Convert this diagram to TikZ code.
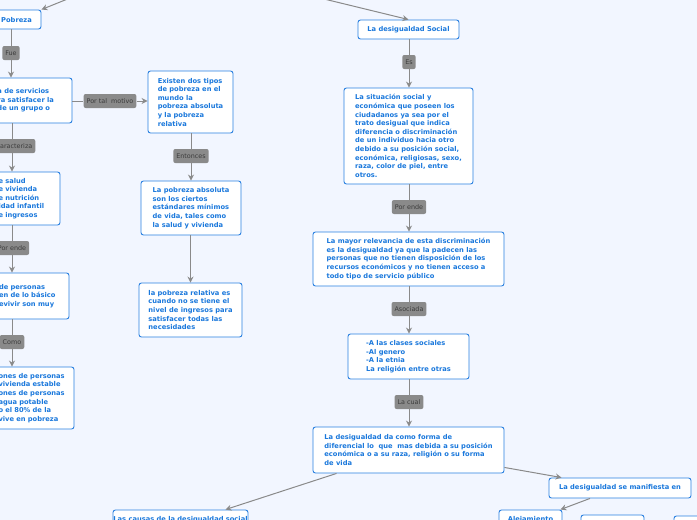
\documentclass[tikz,border=0pt]{standalone}
\usepackage{fontspec}
\setmainfont{DejaVu Sans}
\usetikzlibrary{arrows.meta}
\definecolor{bg}{HTML}{F2F6FF}
\definecolor{bl}{HTML}{1A78DC}
\definecolor{bd}{HTML}{2A80E0}
\definecolor{lg}{HTML}{8A8A8A}
\definecolor{lt}{HTML}{3C3C3C}
\begin{document}
\begin{tikzpicture}[x=1pt,y=-1pt,
  box/.style={draw=bd,line width=0.9pt,fill=white,rounded corners=2.5pt,text=bl,
    font=\fontsize{6.7}{8.6}\selectfont\bfseries,align=left,inner sep=0pt},
  btxt/.style={text=bl,font=\fontsize{6.7}{8.6}\selectfont\bfseries,inner sep=0pt},
  lab/.style={fill=lg,rounded corners=2pt,text=lt,font=\fontsize{6.4}{7}\selectfont,
    inner xsep=3pt,minimum height=14pt},
  conn/.style={draw=lg,line width=1pt},
  arr/.style={conn,-{Stealth[length=6pt,width=6pt]}}]
\useasboundingbox[fill=bg] (0,0) rectangle (697,520);
\newcommand{\bx}[6][]{\node[box,minimum width=#4-#2,minimum height=#5-#3,#1] (#6) at ({(#2+#4)/2},{(#3+#5)/2})}
\coordinate (t1) at (70,-2);
\coordinate (t2) at (320,-2);
\bx[align=center]{-8}{10}{41}{29}{pob}{Pobreza};
\bx[align=center]{358}{20}{459}{39}{ds}{La desigualdad Social};
\draw[arr] (t1) -- (pob.north east);
\draw[arr] (t2) -- (ds.north);
% left column
\bx[text width=72]{-5}{78}{72}{123}{b1}{a de servicios\\ra satisfacer la\\de un grupo o\\ };
\bx{148}{71}{233}{133}{b2}{Existen dos tipos\\de pobreza en el\\mundo la\\pobreza absoluta\\y la pobreza\\relativa};
\bx{141}{181}{241}{235}{b3}{La pobreza absoluta\\son los ciertos\\estándares mínimos\\de vida, tales como\\la salud y vivienda};
\bx{139}{283}{242}{337}{b4}{la pobreza relativa es\\cuando no se tiene el\\nivel de ingresos para\\satisfacer todas las\\necesidades};
\bx[text width=58]{-5}{172}{60}{225}{b5}{e salud\\e vivienda\\e nutrición\\idad infantil\\e ingresos};
\bx[text width=66]{-5}{273}{69}{319}{b6}{de personas\\en de lo básico\\evivir son muy\\ };
\bx[text width=72]{-5}{367}{74}{429}{b7}{ones de personas\\vivienda estable\\ones de personas\\agua potable\\o el 80\% de la\\vive en pobreza};
\node[lab] (lfue) at (11,53) {Fue};
\node[lab] (lmot) at (110,101) {Por tal\ \ motivo};
\node[lab] (lent) at (191,156) {Entonces};
\node[lab] (lcar) at (14,146) {Caracteriza};
\node[lab] (lpe1) at (12,248) {Por ende};
\node[lab] (lcom) at (12,342) {Como};
\draw[conn] (pob.south -| lfue) -- (lfue); \draw[arr] (lfue) -- (b1.north -| lfue);
\draw[conn] (b1.east |- lmot) -- (lmot); \draw[arr] (lmot) -- (b2.west|-lmot);
\draw[conn] (b2.south -| lent) -- (lent); \draw[arr] (lent) -- (b3.north -| lent);
\draw[arr] (b3.south -| b4) -- (b4.north);
\draw[conn] (b1.south -| lpe1) -- (lcar.north -| lpe1); \draw[arr] (lcar.south -| lpe1) -- (b5.north -| lpe1);
\draw[conn] (b5.south -| lpe1) -- (lpe1); \draw[arr] (lpe1) -- (b6.north -| lpe1);
\draw[conn] (b6.south -| lcom) -- (lcom); \draw[arr] (lcom) -- (b7.north -| lcom);
% right column
\bx{344}{88}{473}{184}{b8}{La situación social y\\económica que poseen los\\ciudadanos ya sea por el\\trato desigual que indica\\diferencia o discriminación\\de un individuo hacia otro\\debido a su posición social,\\económica, religiosas, sexo,\\raza, color de piel, entre\\otros.};
\bx{313}{232}{504}{286}{b9}{La mayor relevancia de esta discriminación\\es la desigualdad ya que la padecen las\\personas que no tienen disposición de los\\recursos económicos y no tienen acceso a\\todo tipo de servicio público};
\bx{348}{334}{469}{379}{b10}{-A las clases sociales\\-Al genero\\-A la etnia\\La religión entre otras};
\bx{313}{427}{504}{473}{b11}{La desigualdad da como forma de\\diferencial lo\ \ que\ \ mas debida a su posición\\económica o a su raza, religión o su forma\\de vida};
\bx[align=center]{549}{478}{691}{498}{b12}{La desigualdad se manifiesta en};
\bx{499}{510}{562}{540}{b13}{};
\bx{581}{515}{644}{540}{b14}{};
\bx{674}{516}{720}{540}{b15}{};
\bx{113}{510}{248}{540}{b16}{};
\node[btxt] (t13) at (530.5,520) {Alejamiento};
\node[btxt] (t16) at (180.5,520) {Las causas de la desigualdad social};
\node[lab] (les) at (409,62) {Es};
\node[lab] (lpe2) at (409,207) {Por ende};
\node[lab] (laso) at (409,309) {Asociada};
\node[lab] (lcua) at (409,402) {La cual};
\draw[conn] (ds.south -| les) -- (les); \draw[arr] (les) -- (b8.north -| les);
\draw[conn] (b8.south -| lpe2) -- (lpe2); \draw[arr] (lpe2) -- (b9.north -| lpe2);
\draw[conn] (b9.south -| laso) -- (laso); \draw[arr] (laso) -- (b10.north -| laso);
\draw[conn] (b10.south -| lcua) -- (lcua); \draw[arr] (lcua) -- (b11.north -| lcua);
\draw[arr] ([yshift=6pt]b11.south east) -- ([xshift=13pt]b12.north west);
\draw[arr] ([xshift=-30pt]b12.south) -- ([xshift=-2pt]b13.north east);
\draw[arr] ([xshift=-72pt]b11.south) -- ([xshift=-23pt]b16.north east);
\end{tikzpicture}
\end{document}
